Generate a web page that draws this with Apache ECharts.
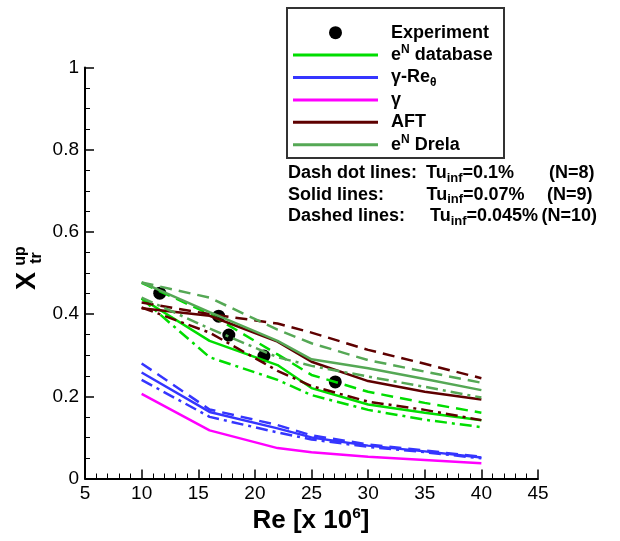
<!DOCTYPE html>
<html>
<head>
<meta charset="utf-8">
<script src="https://cdn.jsdelivr.net/npm/echarts@6/dist/echarts.min.js"></script>
<style>
  html, body { margin: 0; padding: 0; background: #fff; }
  #chart { width: 620px; height: 541px; }
</style>
</head>
<body>
<div id="chart"></div>
<script>
// Upper-surface transition location vs Reynolds number
const FONT = '"Liberation Sans", Arial, Helvetica, sans-serif';

// Reynolds numbers (x 10^6) of the computed cases
const reCases = [10, 16, 22, 25, 30, 35, 40];

// Measured transition points
const expRe  = [11.6, 16.8, 17.7, 20.8, 27.1];
const expXtr = [0.451, 0.395, 0.349, 0.298, 0.235];

// e^N database
const dbN9  = [0.438, 0.335, 0.276, 0.220, 0.180, 0.160, 0.142];
const dbN8  = [0.438, 0.295, 0.240, 0.203, 0.167, 0.143, 0.125];
const dbN10 = [0.476, 0.400, 0.302, 0.252, 0.211, 0.184, 0.160];

// gamma-Re_theta
const grN9  = [0.258, 0.162, 0.122, 0.100, 0.080, 0.066, 0.051];
const grN8  = [0.240, 0.150, 0.112, 0.095, 0.077, 0.064, 0.049];
const grN10 = [0.280, 0.168, 0.130, 0.105, 0.083, 0.068, 0.053];

// gamma
const gmAll = [0.206, 0.117, 0.074, 0.064, 0.053, 0.045, 0.037];

// AFT
const afN9  = [0.414, 0.396, 0.333, 0.284, 0.237, 0.211, 0.192];
const afN8  = [0.416, 0.355, 0.262, 0.225, 0.187, 0.167, 0.142];
const afN10 = [0.428, 0.400, 0.377, 0.355, 0.313, 0.279, 0.244];

// e^N Drela
const drN9  = [0.477, 0.405, 0.335, 0.290, 0.268, 0.242, 0.215];
const drN8  = [0.440, 0.365, 0.295, 0.274, 0.248, 0.223, 0.197];
const drN10 = [0.477, 0.440, 0.362, 0.329, 0.288, 0.260, 0.233];

// Tick labels
const xTickLabels = ['5', '10', '15', '20', '25', '30', '35', '40', '45'];
const yTickLabels = ['0', '0.2', '0.4', '0.6', '0.8', '1'];

// Legend entries
const legendNames = ['Experiment', 'eN database', 'γ-Reθ', 'γ', 'AFT', 'eN Drela'];
const legendText = {
  'Experiment': 'Experiment',
  'eN database': 'e{sup|N} database',
  'γ-Reθ': 'γ-Re{sub|θ}',
  'γ': 'γ',
  'AFT': 'AFT',
  'eN Drela': 'e{sup|N} Drela'
};

// Free-stream turbulence notes
const noteLabels = ['Dash dot lines:', 'Solid lines:', 'Dashed lines:'];
const noteTu = ['0.1%', '0.07%', '0.045%'];
const noteN = ['(N=8)', '(N=9)', '(N=10)'];

const C_DB = '#00dd00', C_GR = '#3535ff', C_GM = '#ff00ff', C_AF = '#5e0000', C_DR = '#55a855';
const SOLID = 'solid', DASHED = [12, 7], DASHDOT = [12, 5, 3, 5];
// flat bar used as the legend key of a curve
const LINE_ICON = 'path://M0,0L85,0L85,3L0,3Z';

function curve(name, values, color, type) {
  return {
    type: 'line', name: name,
    data: reCases.map((r, i) => [r, values[i]]),
    symbol: 'none',
    lineStyle: { color: color, width: 2.5, type: type, cap: 'butt' },
    itemStyle: { color: color },
    animation: false
  };
}

const series = [
  {
    type: 'scatter', name: 'Experiment',
    data: expRe.map((r, i) => [r, expXtr[i]]),
    symbol: 'circle', symbolSize: 13,
    itemStyle: { color: '#000', opacity: 1 },
    animation: false
  },
  curve('eN database', dbN9, C_DB, SOLID),
  curve('eN database', dbN8, C_DB, DASHDOT),
  curve('eN database', dbN10, C_DB, DASHED),
  curve('γ-Reθ', grN9, C_GR, SOLID),
  curve('γ-Reθ', grN8, C_GR, DASHDOT),
  curve('γ-Reθ', grN10, C_GR, DASHED),
  curve('γ', gmAll, C_GM, SOLID),
  curve('AFT', afN9, C_AF, SOLID),
  curve('AFT', afN8, C_AF, DASHDOT),
  curve('AFT', afN10, C_AF, DASHED),
  curve('eN Drela', drN9, C_DR, SOLID),
  curve('eN Drela', drN8, C_DR, DASHDOT),
  curve('eN Drela', drN10, C_DR, DASHED)
];

const legendColors = { 'eN database': C_DB, 'γ-Reθ': C_GR, 'γ': C_GM, 'AFT': C_AF, 'eN Drela': C_DR };

const axisCommon = {
  type: 'value',
  axisLine: { show: true, onZero: false, lineStyle: { color: '#000', width: 2 } },
  axisTick: { show: true, inside: true, length: 9, lineStyle: { color: '#000', width: 1.5 } },
  minorTick: { show: true, length: 5, lineStyle: { color: '#000', width: 1 } },
  splitLine: { show: false },
  minorSplitLine: { show: false }
};

const noteGraphics = [];
const noteRowY = [173.5, 195, 216.5];
const noteTuX = [426, 426.5, 430];
const noteNX = [549, 547, 541.5];
const noteRich = { sub: { fontSize: 13, fontWeight: 'bold', fontFamily: FONT, verticalAlign: 'bottom', lineHeight: 10 } };
noteLabels.forEach((lab, i) => {
  const base = { fontSize: 18, fontWeight: 'bold', fontFamily: FONT, fill: '#000', verticalAlign: 'middle', align: 'left', lineHeight: 22 };
  noteGraphics.push({ type: 'text', x: 288, y: noteRowY[i], style: Object.assign({ text: lab }, base) });
  noteGraphics.push({ type: 'text', x: noteTuX[i], y: noteRowY[i], style: Object.assign({ text: 'Tu{sub|inf}=' + noteTu[i], rich: noteRich }, base) });
  noteGraphics.push({ type: 'text', x: noteNX[i], y: noteRowY[i], style: Object.assign({ text: noteN[i] }, base) });
});

const option = {
  backgroundColor: '#fff',
  animation: false,
  grid: { left: 85, right: 82, top: 67.5, bottom: 62.5, containLabel: false },
  xAxis: Object.assign({}, axisCommon, {
    min: 5, max: 45, interval: 5,
    minorTick: Object.assign({}, axisCommon.minorTick, { splitNumber: 5 }),
    axisLabel: {
      color: '#000', fontSize: 19, fontFamily: FONT, margin: 6,
      showMinLabel: true, showMaxLabel: true,
      formatter: v => xTickLabels[Math.round((v - 5) / 5)]
    }
  }),
  yAxis: Object.assign({}, axisCommon, {
    min: 0, max: 1, interval: 0.2,
    minorTick: Object.assign({}, axisCommon.minorTick, { splitNumber: 4 }),
    axisLabel: {
      color: '#000', fontSize: 19, fontFamily: FONT, margin: 6,
      showMinLabel: true, showMaxLabel: true,
      formatter: v => yTickLabels[Math.round(v / 0.2)]
    }
  }),
  legend: {
    orient: 'vertical', left: 293, top: 21.5, padding: 0,
    itemWidth: 85, itemHeight: 13, itemGap: 0,
    selectedMode: false,
    data: legendNames.map(n => n === 'Experiment'
      ? { name: n, icon: 'circle', itemStyle: { color: '#000', opacity: 1 } }
      : { name: n, icon: LINE_ICON, itemStyle: { color: legendColors[n], opacity: 1 } }),
    formatter: n => '{gap| }' + legendText[n],
    textStyle: {
      color: '#000', fontSize: 18, fontWeight: 'bold', fontFamily: FONT, lineHeight: 22.4,
      rich: {
        gap: { width: 8, lineHeight: 22.4 },
        sup: { fontSize: 12, fontWeight: 'bold', fontFamily: FONT, verticalAlign: 'top', lineHeight: 17.5 },
        sub: { fontSize: 12, fontWeight: 'bold', fontFamily: FONT, verticalAlign: 'bottom', lineHeight: 6 }
      }
    }
  },
  graphic: [
    { type: 'rect', shape: { x: 287, y: 8, width: 217, height: 150 },
      style: { fill: null, stroke: '#333', lineWidth: 2 }, z: 10 },
    // x-axis title
    { type: 'text', x: 311, y: 521, style: {
        text: 'Re [x 10{sup|6}]', fontSize: 26, fontWeight: 'bold', fontFamily: FONT, fill: '#000',
        align: 'center', verticalAlign: 'middle', lineHeight: 30,
        rich: { sup: { fontSize: 15.5, fontWeight: 'bold', fontFamily: FONT, verticalAlign: 'top', lineHeight: 17.4 } }
      } },
    // y-axis title, rotated to read upwards
    { type: 'text', x: 28, y: 281, rotation: Math.PI / 2, style: {
        text: 'X', fontSize: 27, fontWeight: 'bold', fontFamily: FONT, fill: '#000',
        align: 'center', verticalAlign: 'middle' } },
    { type: 'text', x: 21, y: 256, rotation: Math.PI / 2, style: {
        text: 'up', fontSize: 16, fontWeight: 'bold', fontFamily: FONT, fill: '#000',
        align: 'center', verticalAlign: 'middle' } },
    { type: 'text', x: 37, y: 258, rotation: Math.PI / 2, style: {
        text: 'tr', fontSize: 16, fontWeight: 'bold', fontFamily: FONT, fill: '#000',
        align: 'center', verticalAlign: 'middle' } }
  ].concat(noteGraphics),
  series: series
};

const chart = echarts.init(document.getElementById('chart'), null, { renderer: 'canvas' });
chart.setOption(option);
</script>
</body>
</html>
